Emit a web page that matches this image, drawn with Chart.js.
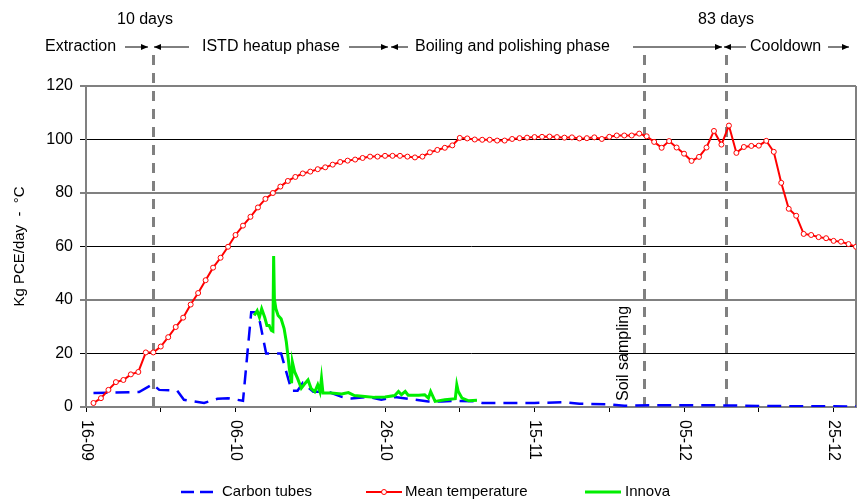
<!DOCTYPE html>
<html>
<head>
<meta charset="utf-8">
<script src="https://cdn.jsdelivr.net/npm/chart.js@4"></script>
<style>
  html, body { margin: 0; padding: 0; background: #fff; }
  #wrap { width: 863px; height: 503px; }
</style>
</head>
<body>
<div id="wrap"><canvas id="chart" width="863" height="503"></canvas></div>
<script>
// x axis = days after 16-09
const tickLabels = ["16-09", "06-10", "26-10", "15-11", "05-12", "25-12"];

// Mean temperature, one reading per day starting day 1
const tempStartDay = 1;
const tempValues = [
  1.5, 3.3, 6.4, 9.3, 10.1, 12.2, 13.1, 20.4, 20.4, 22.6,
  26.1, 29.9, 33.4, 38.3, 42.6, 47.4, 52.1, 55.8, 59.9, 64.3,
  67.8, 71.1, 74.6, 77.8, 80.0, 82.4, 84.5, 86.0, 87.3, 88.0,
  88.9, 89.6, 90.6, 91.6, 92.1, 92.5, 93.1, 93.6, 93.6, 93.9,
  93.9, 93.9, 93.6, 93.3, 93.6, 95.2, 96.1, 96.9, 97.8, 100.6,
  100.4, 100.0, 99.9, 99.9, 99.6, 99.6, 100.2, 100.5, 100.7, 100.9,
  101.0, 101.1, 100.9, 100.7, 100.8, 100.4, 100.5, 100.8, 100.2, 101.0,
  101.5, 101.5, 101.5, 102.2, 101.2, 99.1, 96.9, 99.4, 97.0, 94.7,
  92.0, 93.5, 97.0, 103.2, 98.1, 105.2, 95.0, 97.2, 97.6, 97.7,
  99.5, 95.4, 83.8, 74.1, 71.5, 64.7, 64.3, 63.5, 63.1, 62.1,
  61.8, 60.9, 59.9
];

// Carbon tubes
const carbonDays = [1, 7.1, 8.9, 9.8, 12.2, 13.1, 15.8, 17.6, 19, 21, 22.1, 23, 24.1, 26.1, 27.5, 28.3, 29, 30.4, 32.4, 34.2, 35.5, 37.7, 39.5, 41.3, 45.8, 47.6, 49.4, 52, 53, 60, 64, 66, 70, 72, 78, 85, 90, 95, 103];
const carbonValues = [5.2, 5.6, 8.5, 6.4, 6.1, 2.7, 1.5, 3.1, 3.3, 2.3, 35.4, 35.4, 20, 20, 6.1, 6.1, 9.0, 5.7, 5.7, 3.8, 3.2, 3.8, 2.7, 3.7, 2.1, 2.1, 2.3, 2.1, 1.5, 1.5, 1.8, 1.2, 1.0, 0.5, 0.7, 0.6, 0.4, 0.3, 0.2];

// Innova
const innovaDays = [22.5, 22.9, 23.2, 23.5, 23.9, 24.2, 24.5, 24.8, 25.0, 25.1, 25.2, 25.4, 25.7, 26.1, 26.5, 26.8, 27.0, 27.2, 27.5, 27.6, 27.9, 28.3, 28.8, 29.2, 29.7, 30.1, 30.6, 31.0, 31.3, 31.5, 31.7, 32.8, 34.2, 35.1, 35.9, 37.3, 38.6, 40.0, 41.3, 41.8, 42.2, 42.7, 43.1, 44.5, 45.3, 45.8, 46.1, 46.7, 48.0, 49.4, 49.6, 49.8, 50.3, 51.2, 52.3];
const innovaValues = [34.2, 36.0, 33.6, 36.7, 33.6, 30.5, 30.5, 28.6, 28.3, 56.4, 40.4, 36.7, 34.2, 33.0, 29.3, 24.3, 19.4, 14.4, 8.9, 16.9, 13.2, 10.7, 7.0, 8.5, 10.1, 7.0, 5.7, 8.3, 5.7, 10.7, 5.2, 5.2, 4.9, 5.4, 4.3, 3.9, 3.6, 3.7, 4.3, 5.8, 4.6, 5.8, 4.4, 4.4, 4.6, 3.3, 5.8, 2.1, 2.7, 3.1, 8.3, 5.8, 3.3, 2.3, 2.5];

// phase markers (days)
const markerDays = [9, 74.7, 85.6];

const FONT = "'Liberation Sans', Arial, sans-serif";

function toPoints(xs, ys) {
  return ys.map((v, i) => ({ x: xs[i], y: v }));
}

const tempPoints = tempValues.map((v, i) => ({ x: tempStartDay + i, y: v }));

function arrowHead(ctx, x, y, dir) {
  ctx.beginPath();
  ctx.moveTo(x, y);
  ctx.lineTo(x - dir * 7, y - 3);
  ctx.lineTo(x - dir * 7, y + 3);
  ctx.closePath();
  ctx.fill();
}

function arrow(ctx, x1, x2, y, headEnd) {
  ctx.beginPath();
  ctx.moveTo(x1, y);
  ctx.lineTo(x2, y);
  ctx.stroke();
  if (headEnd === "right") arrowHead(ctx, x2, y, 1);
  if (headEnd === "left") arrowHead(ctx, x1, y, -1);
}

const overlay = {
  id: "overlay",
  beforeDatasetsDraw(chart) {
    const ctx = chart.ctx;
    const x = chart.scales.x;
    const area = chart.chartArea;
    ctx.save();
    // right border
    ctx.strokeStyle = "#808080";
    ctx.lineWidth = 2;
    ctx.beginPath();
    ctx.moveTo(area.right, area.top);
    ctx.lineTo(area.right, area.bottom);
    ctx.stroke();
    // phase markers
    ctx.setLineDash([10, 8]);
    ctx.lineWidth = 3;
    markerDays.forEach(d => {
      const px = Math.round(x.getPixelForValue(d)) + 0.5;
      ctx.beginPath();
      ctx.moveTo(px, 55);
      ctx.lineTo(px, area.bottom);
      ctx.stroke();
    });
    ctx.restore();
  },
  afterDraw(chart) {
    const ctx = chart.ctx;
    const x = chart.scales.x;
    const area = chart.chartArea;
    ctx.save();
    ctx.fillStyle = "#000";
    ctx.strokeStyle = "#000";
    ctx.lineWidth = 1;

    // x tick labels, rotated clockwise
    ctx.font = "16px " + FONT;
    ctx.textAlign = "left";
    ctx.textBaseline = "middle";
    tickLabels.forEach((lab, i) => {
      const px = x.getPixelForValue(i * 20);
      ctx.save();
      ctx.translate(px, area.bottom + 13);
      ctx.rotate(Math.PI / 2);
      ctx.fillText(lab, 0, 0);
      ctx.restore();
    });

    // phase headings
    ctx.textAlign = "center";
    ctx.fillText("10 days", 145, 20);
    ctx.fillText("83 days", 726, 20);
    ctx.textAlign = "left";
    const y2 = 47;
    ctx.fillText("Extraction", 45, y2);
    arrow(ctx, 125, 148, y2, "right");
    arrow(ctx, 154, 189, y2, "left");
    ctx.fillText("ISTD heatup phase", 202, y2);
    arrow(ctx, 349, 388, y2, "right");
    arrow(ctx, 391, 408, y2, "left");
    ctx.fillText("Boiling and polishing phase", 415, y2);
    arrow(ctx, 633, 722, y2, "right");
    arrow(ctx, 724, 746, y2, "left");
    ctx.fillText("Cooldown", 750, y2);
    arrow(ctx, 828, 849, y2, "right");

    // soil sampling note
    ctx.save();
    ctx.translate(624, 401);
    ctx.rotate(-Math.PI / 2);
    ctx.textBaseline = "middle";
    ctx.fillText("Soil sampling", 0, 0);
    ctx.restore();

    // legend
    const ly = 492;
    ctx.font = "15px " + FONT;
    ctx.textBaseline = "middle";
    ctx.strokeStyle = "#0000ff";
    ctx.lineWidth = 2.5;
    ctx.setLineDash([13, 6]);
    ctx.beginPath();
    ctx.moveTo(181, ly);
    ctx.lineTo(213, ly);
    ctx.stroke();
    ctx.setLineDash([]);
    ctx.fillText("Carbon tubes", 222, ly);

    ctx.strokeStyle = "#ff0000";
    ctx.lineWidth = 2;
    ctx.beginPath();
    ctx.moveTo(366, ly);
    ctx.lineTo(402, ly);
    ctx.stroke();
    ctx.lineWidth = 1;
    ctx.fillStyle = "#fff";
    ctx.beginPath();
    ctx.arc(384, ly, 2.5, 0, Math.PI * 2);
    ctx.fill();
    ctx.stroke();
    ctx.fillStyle = "#000";
    ctx.fillText("Mean temperature", 405, ly);

    ctx.strokeStyle = "#00ee00";
    ctx.lineWidth = 3;
    ctx.beginPath();
    ctx.moveTo(585, ly);
    ctx.lineTo(621, ly);
    ctx.stroke();
    ctx.fillText("Innova", 625, ly);
    ctx.restore();
  }
};

new Chart(document.getElementById("chart"), {
  type: "line",
  data: {
    datasets: [
      {
        label: "Carbon tubes",
        data: toPoints(carbonDays, carbonValues),
        borderColor: "#0000ff",
        borderWidth: 2.5,
        borderDash: [14, 8],
        pointRadius: 0,
        tension: 0,
        order: 3
      },
      {
        label: "Mean temperature",
        data: tempPoints,
        borderColor: "#ff0000",
        borderWidth: 2,
        pointRadius: 2.5,
        pointBorderWidth: 1,
        pointBorderColor: "#ff0000",
        pointBackgroundColor: "#ffffff",
        tension: 0,
        order: 1
      },
      {
        label: "Innova",
        data: toPoints(innovaDays, innovaValues),
        borderColor: "#00ee00",
        borderWidth: 3,
        pointRadius: 0,
        tension: 0,
        order: 2
      }
    ]
  },
  options: {
    responsive: false,
    animation: false,
    layout: { padding: { top: 86, right: 7, left: 0, bottom: 0 } },
    plugins: {
      legend: { display: false },
      tooltip: { enabled: false }
    },
    scales: {
      x: {
        type: "linear",
        min: 0,
        max: 103,
        ticks: { stepSize: 10, display: false, includeBounds: false },
        grid: { drawOnChartArea: false, drawTicks: true, tickLength: 5, color: "#000" },
        border: { color: "#808080", width: 2 },
        afterFit: s => { s.height = 96; }
      },
      y: {
        min: 0,
        max: 120,
        ticks: { stepSize: 20, padding: 7, color: "#000", font: { family: FONT, size: 16 } },
        grid: {
          tickLength: 6,
          color: c => (c.tick && c.tick.value % 40 === 0) ? "#808080" : "#000",
          lineWidth: c => (c.tick && c.tick.value % 40 === 0) ? 2 : 1
        },
        border: { color: "#808080", width: 2 },
        title: {
          display: true,
          text: "Kg PCE/day  -  °C",
          color: "#000",
          font: { family: FONT, size: 15 },
          padding: { top: 11, bottom: 0 }
        },
        afterFit: s => { s.width = 86; }
      }
    }
  },
  plugins: [overlay]
});
</script>
</body>
</html>
